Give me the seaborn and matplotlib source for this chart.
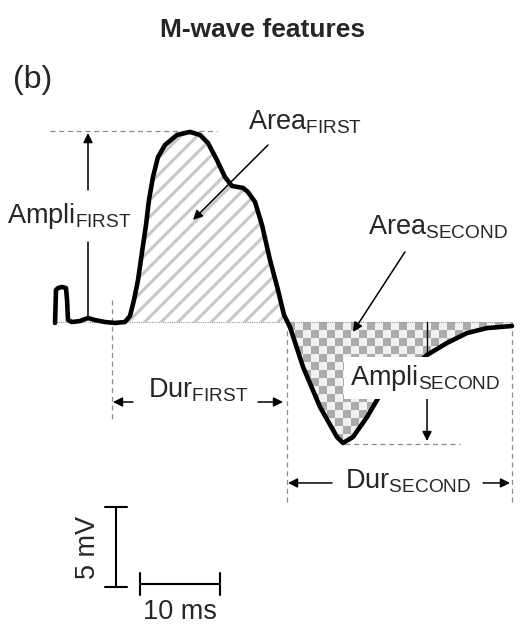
import numpy as np
import matplotlib
matplotlib.use("Agg")
import matplotlib.pyplot as plt
import seaborn as sns
from matplotlib.colors import ListedColormap

# M-wave trace (time in ms, amplitude in mV)
time_ms = [-0.12, 0.0, 0.25, 0.75, 1.25, 1.38, 1.5, 2.0, 3.0, 4.0, 4.88, 6.12, 7.38,
           8.62, 9.25, 9.75, 10.25, 10.88, 11.25, 11.62, 12.12, 12.75, 13.62, 15.12,
           16.75, 18.0, 19.0, 20.12, 21.12, 22.0, 23.38, 24.0, 24.88, 25.75, 26.75,
           27.75, 28.5, 29.25, 30.88, 33.0, 35.12, 35.88, 37.12, 38.88, 40.5, 46.38,
           48.88, 51.38, 53.88, 57.0]
amp_mv = [-0.06, 2.0, 2.12, 2.19, 2.12, 1.38, 0.12, 0.0, 0.06, 0.25, 0.12, 0.0, -0.06,
          0.0, 0.38, 1.38, 2.62, 4.81, 6.06, 7.62, 9.06, 10.31, 11.06, 11.69,
          11.88, 11.69, 11.19, 10.12, 9.06, 8.5, 8.38, 8.12, 7.5, 6.06, 3.88,
          2.0, 0.44, -0.31, -2.81, -5.31, -7.19, -7.56, -7.19, -5.94, -4.56, -2.06,
          -1.31, -0.69, -0.38, -0.25]

first_start, first_end = 7.0, 28.88
second_end = 57.0
peak_first = 11.94
peak_second = -7.62
scale_mv = 5
scale_ms = 10

t = np.array(time_ms)
v = np.array(amp_mv)

sns.set_theme(style="white")
plt.rcParams["font.family"] = ["Liberation Sans", "DejaVu Sans"]
plt.rcParams["mathtext.default"] = "regular"
plt.rcParams["hatch.linewidth"] = 2.2

fig = plt.figure(figsize=(5.2, 6.34), dpi=100)
ax = fig.add_axes([0, 0, 1, 1])
ax.set_axis_off()

fs = 19.5
dash = dict(color="#8c8c8c", lw=0.9, ls=(0, (4, 3)))

# first phase area, hatched
ax.fill_between(t, 0, v, where=(t >= first_start) & (v >= 0), interpolate=True,
                facecolor="none", edgecolor="#c8c8c8", hatch="//", lw=0, zorder=1)

# second phase area, checkerboard clipped to the area
poly = ax.fill_between(t, 0, v, where=(t >= 28) & (v <= 0), interpolate=True,
                       facecolor="none", lw=0, zorder=1)
board = np.indices((16, 30)).sum(axis=0) % 2
im = ax.imshow(board, extent=[first_end, first_end + 30, -8, 0], aspect="auto",
               cmap=ListedColormap(["#ababab", "#f2f2f2"]), interpolation="nearest",
               origin="upper", zorder=1)
im.set_clip_path(poly.get_paths()[0], transform=ax.transData)

# baseline and guides
ax.plot([0, second_end], [0, 0], color="#9a9a9a", lw=0.8, ls=(0, (1, 1)), zorder=2)
ax.plot([-0.75, 20.12], [peak_first, peak_first], **dash)
ax.plot([first_start, first_start], [1.38, -6.12], **dash)
ax.plot([first_end, first_end], [0, -11.44], **dash)
ax.plot([second_end, second_end], [0, -11.44], **dash)
ax.plot([36.12, 50.5], [peak_second, peak_second], **dash)

# trace
sns.lineplot(x=t, y=v, sort=False, color="black", lw=3.3, ax=ax, zorder=3,
             solid_joinstyle="round", solid_capstyle="round")
ax.plot([46.38, 46.38], [0, -2.06], color="black", lw=1.0, zorder=3)

arrow = dict(arrowstyle="-|>", color="black", lw=1.1, mutation_scale=14,
             shrinkA=0, shrinkB=0)


def arr(tail, head):
    ax.annotate("", xy=head, xytext=tail, arrowprops=arrow, zorder=4)


# amplitude first
ax.plot([4.0, 4.0], [0.31, 5.0], color="black", lw=1.1)
arr((4.0, 8.25), (4.0, 11.81))
ax.text(-6.12, 6.19, "Ampli$_{FIRST}$", fontsize=fs, ha="left", va="baseline")

# area first
arr((26.5, 11.06), (17.12, 6.38))
ax.text(24.0, 12.06, "Area$_{FIRST}$", fontsize=fs, ha="left", va="baseline")

# area second
arr((43.62, 4.38), (37.12, -0.62))
ax.text(39.0, 5.44, "Area$_{SECOND}$", fontsize=fs, ha="left", va="baseline")

# amplitude second
arr((46.38, -4.69), (46.38, -7.44))
ax.text(36.75, -3.94, "Ampli$_{SECOND}$", fontsize=fs, ha="left", va="baseline",
        zorder=5, bbox=dict(facecolor="white", edgecolor="none", pad=4))

# durations
arr((9.62, -5.0), (7.12, -5.0))
arr((25.25, -5.0), (28.38, -5.0))
ax.text(11.5, -4.69, "Dur$_{FIRST}$", fontsize=fs, ha="left", va="baseline")
arr((34.5, -10.06), (29.0, -10.06))
arr((53.38, -10.06), (56.75, -10.06))
ax.text(36.12, -10.38, "Dur$_{SECOND}$", fontsize=fs, ha="left", va="baseline")

# scale bars
sb = dict(color="black", lw=1.5)
y0 = -16.56
ax.plot([7.5, 7.5], [y0, y0 + scale_mv], **sb)
ax.plot([6.12, 8.88], [y0, y0], **sb)
ax.plot([6.12, 8.88], [y0 + scale_mv, y0 + scale_mv], **sb)
ax.text(4.0, y0 + scale_mv / 2, f"{scale_mv} mV", fontsize=fs, rotation=90,
        ha="center", va="center")
x0, yb = 10.5, -16.38
ax.plot([x0, x0 + scale_ms], [yb, yb], **sb)
ax.plot([x0, x0], [-15.69, -17.06], **sb)
ax.plot([x0 + scale_ms, x0 + scale_ms], [-15.69, -17.06], **sb)
ax.text(x0 + scale_ms / 2, -17.3, f"{scale_ms} ms", fontsize=fs, ha="center", va="top")

ax.set_xlim(-7, 58)
ax.set_ylim(-19.5, 20.125)

fig.text(0.504, 0.9416, "M-wave features", fontsize=19, fontweight="bold",
         ha="center", va="baseline")
fig.text(0.025, 0.861, "(b)", fontsize=23, ha="left", va="baseline")

fig.savefig("out.png", dpi=100)
